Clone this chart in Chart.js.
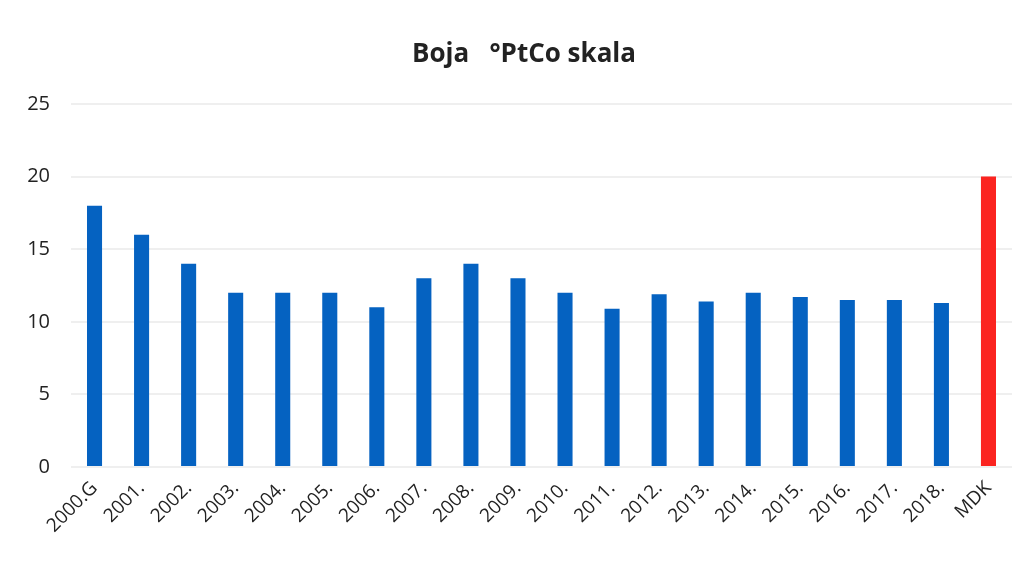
<!DOCTYPE html>
<html>
<head>
<meta charset="utf-8">
<script src="https://cdn.jsdelivr.net/npm/chart.js@4/dist/chart.umd.min.js"></script>
<style>
    html, body { margin: 0; padding: 0; background: #fff; }
    #wrap { width: 1030px; height: 568px; }
</style>
</head>
<body>
<div id="wrap"><canvas id="c-boja"></canvas></div>
<script>
const years  = ['2000.G','2001.','2002.','2003.','2004.','2005.','2006.','2007.','2008.','2009.',
                '2010.','2011.','2012.','2013.','2014.','2015.','2016.','2017.','2018.','MDK'];
const values = [18, 16, 14, 12, 12, 12, 11, 13, 14, 13, 12, 10.9, 11.9, 11.4, 12, 11.7, 11.5, 11.5, 11.3, 20];
const yTicks = [0, 5, 10, 15, 20, 25];
const titleText = 'Boja   °PtCo skala';

const blue = '#0562c1';
const red  = '#fb2420';
const textColor = '#222222';
const gridColor = '#efefef';

// title drawn by hand so it can sit a little right of the canvas centre
const titlePlugin = {
    id: 'centredTitle',
    afterDraw(chart) {
        const ctx = chart.ctx;
        ctx.save();
        ctx.font = 'bold 26px "Open Sans"';
        ctx.fillStyle = textColor;
        ctx.textAlign = 'center';
        ctx.textBaseline = 'middle';
        ctx.fillText(titleText, 524, 55);
        ctx.restore();
    }
};

new Chart(document.getElementById('c-boja'), {
    type: 'bar',
    data: {
        labels: years,
        datasets: [{
            data: values,
            backgroundColor: years.map(y => y === 'MDK' ? red : blue),
            barPercentage: 0.64,
            categoryPercentage: 0.5,
        }]
    },
    options: {
        responsive: true,
        maintainAspectRatio: false,
        animation: false,
        layout: { padding: { top: 104, right: 18, bottom: 0, left: 0 } },
        plugins: {
            legend: { display: false },
            tooltip: { enabled: false },
            title: { display: false }
        },
        scales: {
            x: {
                grid: { display: false },
                border: { display: false },
                ticks: {
                    color: textColor,
                    font: { family: 'Open Sans', size: 19 },
                    minRotation: 45,
                    maxRotation: 45,
                    padding: 2
                },
                afterFit: s => { s.height = 101; }
            },
            y: {
                min: 0,
                max: 25,
                afterBuildTicks: s => { s.ticks = yTicks.map(v => ({ value: v })); },
                grid: { color: gridColor, lineWidth: 2, drawTicks: false },
                border: { display: false },
                ticks: {
                    color: textColor,
                    font: { family: 'Open Sans', size: 20 },
                    padding: 21
                },
                afterFit: s => { s.width = 71; }
            }
        }
    },
    plugins: [titlePlugin]
});
</script>
</body>
</html>
